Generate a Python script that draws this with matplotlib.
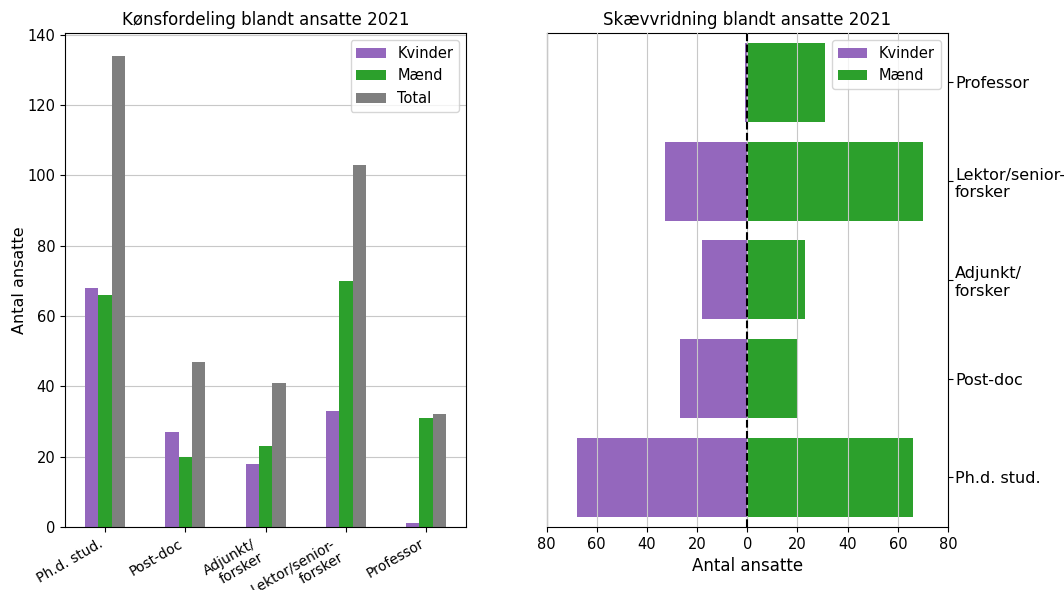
import numpy as np
import matplotlib
matplotlib.use("Agg")
import matplotlib.pyplot as plt

stillinger = ["Ph.d. stud.", "Post-doc", "Adjunkt/\nforsker", "Lektor/senior-\nforsker", "Professor"]
kvinder = [68, 27, 18, 33, 1]
maend = [66, 20, 23, 70, 31]
total = [134, 47, 41, 103, 32]

purple = "#9467bd"
green = "#2ca02c"
grey = "#7f7f7f"

fig, (ax1, ax2) = plt.subplots(1, 2, figsize=(10.64, 5.9), dpi=100)
fig.subplots_adjust(left=0.061, right=0.891, top=0.944, bottom=0.107, wspace=0.2)

# venstre: grupperede søjler
x = np.arange(len(stillinger))
w = 0.5 / 3
ax1.bar(x - w, kvinder, w, color=purple, label="Kvinder")
ax1.bar(x, maend, w, color=green, label="Mænd")
ax1.bar(x + w, total, w, color=grey, label="Total")
ax1.set_xlim(-0.5, 4.5)
ax1.set_ylim(0, 140.5)
ax1.set_xticks(x)
ax1.set_xticklabels(stillinger, rotation=30, ha="right", fontsize=10)
ax1.tick_params(axis="y", labelsize=10.5)
ax1.set_axisbelow(True)
ax1.grid(axis="y", color="#c8c8c8")
ax1.set_ylabel("Antal ansatte", fontsize=11.5, labelpad=0)
ax1.set_title("Kønsfordeling blandt ansatte 2021", fontsize=12)
ax1.legend(loc="upper right", fontsize=10.5)

# højre: skævvridning
y = np.arange(len(stillinger))
ax2.barh(y, [-k for k in kvinder], 0.8, color=purple, label="Kvinder")
ax2.barh(y, maend, 0.8, color=green, label="Mænd")
ax2.axvline(0, color="black", linestyle="--", linewidth=1.5, zorder=3)
ax2.set_xlim(-80, 80)
ax2.set_ylim(-0.5, 4.5)
ticks = np.arange(-80, 81, 20)
ax2.set_xticks(ticks)
ax2.set_xticklabels([str(abs(t)) for t in ticks], fontsize=10.5)
ax2.set_yticks(y)
ax2.set_yticklabels(stillinger, fontsize=11.5)
ax2.yaxis.tick_right()
ax2.tick_params(axis="y", pad=1.5)
ax2.grid(axis="x", color="#c8c8c8")
ax2.set_axisbelow(False)
ax2.set_xlabel("Antal ansatte", fontsize=12)
ax2.set_title("Skævvridning blandt ansatte 2021", fontsize=12)
ax2.legend(loc="upper right", fontsize=10.5)

fig.savefig("out.png", dpi=100)
